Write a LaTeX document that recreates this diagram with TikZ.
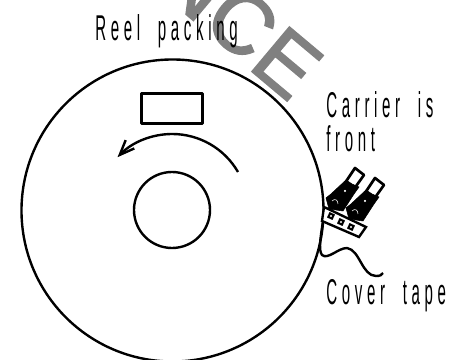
\documentclass[tikz,border=0pt]{standalone}
\usepackage{fontspec}
\setmainfont{Liberation Sans}
\newfontfamily\cadfont[FakeStretch=0.42,LetterSpace=13,WordSpace=2]{Liberation Sans}
\newfontfamily\wmfont[FakeBold=2]{Liberation Sans}
\usetikzlibrary{arrows.meta}
\tikzset{
  >={Straight Barb[length=3.7mm,width=3mm]},
  reelline/.style={line width=1.7pt,black},
  reellbl/.style={font=\cadfont\fontsize{25.5}{27}\selectfont,inner sep=0pt,anchor=base west},
  wmark/.style={font=\wmfont\fontsize{60}{64}\selectfont,text=black!50,inner sep=0pt,rotate=-40},
  termfill/.style={fill=black,draw=black,line width=0.4pt},
  termhole/.style={fill=white,draw=white,line width=0.2pt},
}
\begin{document}
\begin{tikzpicture}[x=0.025cm,y=-0.025cm]
  \useasboundingbox (0,0) rectangle (462,360);
  \begin{scope}
    \clip (0,0) rectangle (462,360);
    \node[wmark] (wmn) at (194,-17) {N};
    \node[wmark] (wmc) at (242,23) {C};
    \node[wmark] (wme) at (287,63) {E};
  \end{scope}
  \node[reellbl] (reel) at (95,41) {Reel packing};
  \node[reellbl] (carrier) at (326,118) {Carrier is};
  \node[reellbl] (front) at (326,152) {front};
  \node[reellbl] (cover) at (326,305) {Cover tape};
  \draw[reelline] (172.5,210.5) circle (151);
  \draw[reelline] (172,210) circle (38);
  \draw[reelline,line join=round] (141.5,93.5) rectangle (202.5,123.5);
  \draw[reelline,->] (238,172) arc[start angle=-30,end angle=-136,radius=76];
  % strip with the two terminals
  \draw[reelline,fill=white] (324,207) -- (366,227) -- (359,237) -- (322,221) -- cycle;
  \foreach \hx/\hy in {331/216,341/222,351/227}{
    \fill[black,rotate around={-25:(\hx,\hy)}] (\hx-3,\hy-3) rectangle (\hx+3,\hy+3);
    \fill[white] (\hx,\hy) circle (1.2);}
  \foreach \sx/\sy in {0/0,20/10}{
    \begin{scope}[shift={(\sx,\sy)}]
      \draw[line width=1.9pt,black,fill=white,line join=round] (345,183) -- (355,168) -- (364,175) -- (354,189);
      \path[termfill] (346,180) -- (331,194) -- (326,198) -- (329,209) -- (343,211) -- (354,194) -- (359,187) -- (352,184) -- cycle;
      \path[termhole] (350,179) -- (357,172.5) -- (359,174) -- (352,182) -- cycle;
      \path[termhole] (345,191) circle (1);
      \draw[white,line width=0.4pt] (332,201) .. controls (335,198) and (338,200) .. (338,204);
    \end{scope}}
  \draw[reelline] (323,221) .. controls (321,235) and (318,250) .. (322,255)
    .. controls (328,260) and (338,248) .. (347,248)
    .. controls (360,250) and (362,276) .. (376,276)
    .. controls (380,276) and (382,275) .. (383,273);
\end{tikzpicture}
\end{document}
